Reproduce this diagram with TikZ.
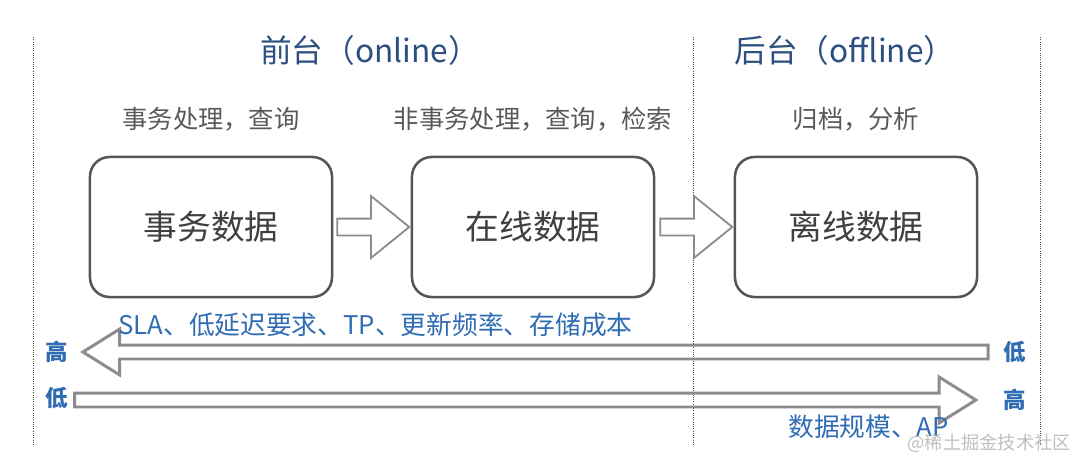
\documentclass[tikz,border=0pt]{standalone}
\usepackage{fontspec}
\setmainfont{Noto Sans CJK SC}
\usetikzlibrary{shapes.arrows,positioning,calc}
\definecolor{titleblue}{HTML}{2D4F7F}
\definecolor{labelblue}{HTML}{2F6CB3}
\definecolor{boxgray}{HTML}{555555}
\definecolor{arrowgray}{HTML}{8C8C8C}
\tikzset{
  stagetitle/.style={text=titleblue, font=\fontsize{22.5}{26}\selectfont},
  task/.style={text=black!65, font=\fontsize{18}{22}\selectfont},
  databox/.style={draw=boxgray, line width=1.8pt, rounded corners=14pt,
    minimum width=6.05cm, minimum height=3.5cm, text=black!75,
    font=\fontsize{24}{28}\selectfont},
  boxarrow/.style={single arrow, draw=arrowgray, fill=white, line width=1.3pt,
    inner xsep=0pt, inner ysep=0.1875cm, single arrow head extend=0.5625cm,
    single arrow tip angle=78, minimum height=1.8cm},
  fatarrow/.style={single arrow, draw=arrowgray, line width=2.1pt,
    inner xsep=0pt, inner ysep=0.1375cm, single arrow head extend=0.4cm,
    single arrow tip angle=64},
  level/.style={text=labelblue, font=\fontsize{16}{18}\selectfont\bfseries, inner sep=0pt},
  metric/.style={text=labelblue, font=\fontsize{18.3}{22}\selectfont, inner sep=0pt},
  divider/.style={black!70, densely dotted, line width=0.6pt}
}

\begin{document}
\begin{tikzpicture}[x=0.025cm, y=-0.025cm]
  \useasboundingbox (0,0) rectangle (1080,467);
  \foreach \x in {33,693,1040}
    \draw[divider] (\x,37) -- (\x,445);

  \node[stagetitle] (front) at (370,50) {前台（online）};
  \node[stagetitle] (back) at (845,50) {后台（offline）};

  % data stages
  \foreach \name/\x/\lab/\job in {b1/211/事务数据/事务处理，查询,
      b2/533/在线数据/非事务处理，查询，检索, b3/856/离线数据/归档，分析} {
    \node[databox] (\name) at (\x,227) {\lab};
    \node[task, above=0.5cm of \name] (\name job) {\job};
  }
  \node[boxarrow, anchor=tip] (a12) at (b2.west) {};
  \node[boxarrow, anchor=tip] (a23) at (b3.west) {};

  % levels
  \node[level] (hi1) at (57,352) {高};
  \node[level] (lo1) at (1015,352) {低};
  \node[level] (lo2) at (57,398) {低};
  \node[level] (hi2) at (1015,400) {高};
  \node[fatarrow, shape border rotate=180, anchor=tip, minimum height=22.625cm]
    (less) at ([xshift=0.29cm]hi1.east) {};
  \node[fatarrow, anchor=tip, minimum height=22.525cm]
    (more) at ([xshift=-0.62cm]hi2.west) {};

  \node[metric, anchor=west] (online) at (118,325) {SLA、低延迟要求、TP、更新频率、存储成本};
  \node[metric, anchor=west] (offline) at (788,427) {数据规模、AP};

  \node[text=black!25, font=\fontsize{13}{15}\selectfont, anchor=east] (mark)
    at (1076,443) {@稀土掘金技术社区};
\end{tikzpicture}
\end{document}
